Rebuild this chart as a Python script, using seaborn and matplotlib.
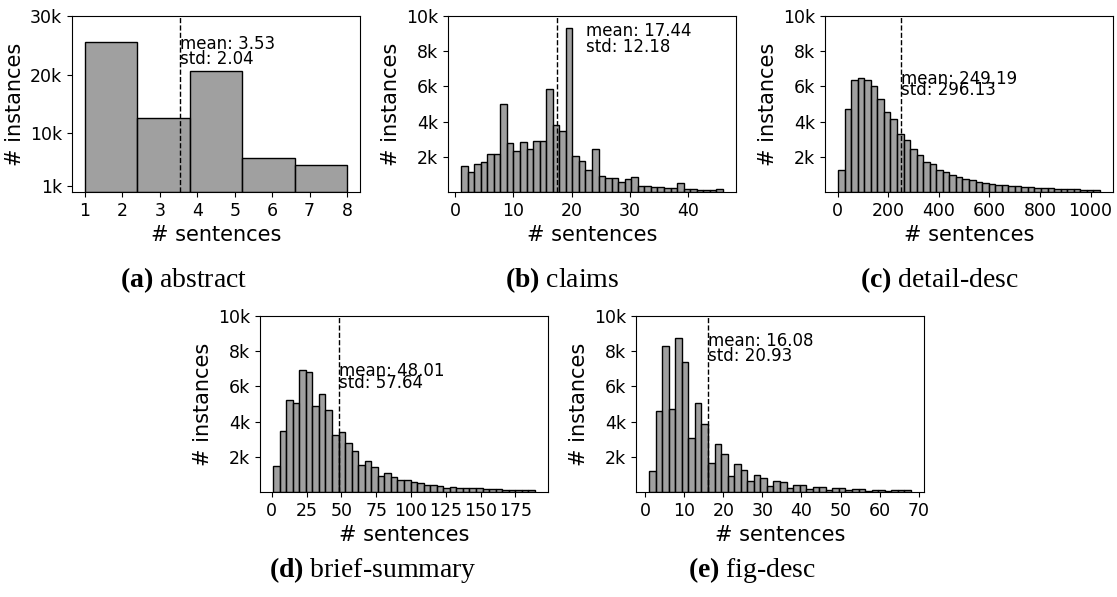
import matplotlib
import matplotlib.pyplot as plt
import numpy as np
import pandas as pd
import seaborn as sns

matplotlib.use('Agg')

# section names and caption letters
sections = ["abstract", "claims", "detail-desc", "brief-summary", "fig-desc"]
letters = ["a", "b", "c", "d", "e"]

# histogram counts per bin
abstract_counts = [25600, 12570, 20550, 5850, 4650]
claims_counts = [1460, 1160, 1610, 1710, 2160, 2180, 5010, 2790, 2350, 2850,
                 2470, 2900, 2900, 5880, 3800, 3470, 9340, 2050, 1750, 1270,
                 2450, 930, 820, 800, 550, 760, 850, 360, 340, 280,
                 300, 230, 250, 510, 190, 170, 130, 130, 130, 190]
detail_counts = [1230, 4740, 6390, 6470, 6390, 6030, 5270, 4570, 4140, 3320,
                 2940, 2450, 2090, 1710, 1570, 1270, 1140, 970, 850, 760,
                 680, 570, 510, 460, 420, 380, 340, 320, 280, 270,
                 250, 210, 230, 190, 170, 150, 150, 130, 110, 110]
summary_counts = [1490, 3480, 5240, 5030, 6920, 6820, 4900, 5540, 4650, 3250,
                  3400, 2780, 2310, 1510, 1740, 1400, 930, 1080, 870, 680,
                  680, 590, 530, 380, 420, 320, 210, 280, 250, 230,
                  230, 210, 170, 170, 150, 130, 130, 110, 110, 110]
figdesc_counts = [1190, 4610, 8300, 4730, 8730, 7410, 3060, 5050, 3840, 1640,
                  2720, 2170, 930, 1610, 1270, 620, 950, 790, 340, 620,
                  570, 210, 420, 380, 170, 300, 280, 110, 230, 210,
                  110, 170, 150, 80, 130, 130, 80, 90, 90, 90]

# range of sentence counts covered by the bins
bin_ranges = [(1, 8), (1, 46), (1, 1037), (1, 189), (1, 68)]

means = [3.53, 17.44, 249.19, 48.01, 16.08]
stds = [2.04, 12.18, 296.13, 57.64, 20.93]

xticks = [
    [1, 2, 3, 4, 5, 6, 7, 8],
    [0, 10, 20, 30, 40],
    [0, 200, 400, 600, 800, 1000],
    [0, 25, 50, 75, 100, 125, 150, 175],
    [0, 10, 20, 30, 40, 50, 60, 70],
]
yticks = [
    [1000, 10000, 20000, 30000],
    [2000, 4000, 6000, 8000, 10000],
    [2000, 4000, 6000, 8000, 10000],
    [2000, 4000, 6000, 8000, 10000],
    [2000, 4000, 6000, 8000, 10000],
]
ymax = [30000, 10000, 10000, 10000, 10000]

all_counts = [abstract_counts, claims_counts, detail_counts, summary_counts, figdesc_counts]

sns.set_style("ticks")
plt.rcParams['font.family'] = ['DejaVu Sans']
plt.rcParams['mathtext.fontset'] = 'custom'
plt.rcParams['mathtext.rm'] = 'Liberation Serif'
plt.rcParams['mathtext.bf'] = 'Liberation Serif:bold'
# plain black text and frame like the default matplotlib look
for key in ['text.color', 'axes.labelcolor', 'xtick.color', 'ytick.color', 'axes.edgecolor']:
    plt.rcParams[key] = 'black'

W, H = 1117, 597
fig = plt.figure(figsize=(W / 100, H / 100), dpi=100)

# axes boxes in pixels: left, top
boxes = [(72, 16), (448, 16), (825, 16), (260, 316), (636, 316)]
ax_w, ax_h = 288, 176
# caption centre x, baseline y in pixels
captions = [(184, 287), (562, 287), (940, 287), (373, 577), (752, 577)]
# shift of the mean/std text from the mean line (data units)
text_dx = [0, 5, 0, 0, 0]

for i, counts in enumerate(all_counts):
    left, top = boxes[i]
    ax = fig.add_axes([left / W, 1 - (top + ax_h) / H, ax_w / W, ax_h / H])

    lo, hi = bin_ranges[i]
    edges = np.linspace(lo, hi, len(counts) + 1)
    df = pd.DataFrame({"sentences": (edges[:-1] + edges[1:]) / 2, "instances": counts})

    sns.histplot(data=df, x="sentences", weights="instances",
                 bins=len(counts), binrange=(lo, hi), ax=ax,
                 color='gray', edgecolor='black', alpha=0.75, linewidth=1)

    ax.axvline(means[i], color='black', linestyle='--', linewidth=1)
    peak = max(counts)
    ax.text(means[i] + text_dx[i], 0.95 * peak, f"mean: {means[i]:.2f}", fontsize=12)
    ax.text(means[i] + text_dx[i], 0.85 * peak, f"std: {stds[i]:.2f}", fontsize=12)

    ax.set_ylim(0, ymax[i])
    ax.set_yticks(yticks[i])
    ax.set_yticklabels([f"{int(t / 1000)}k" for t in yticks[i]])
    ax.set_xticks(xticks[i])
    ax.tick_params(labelsize=12.5)
    ax.set_xlabel("# sentences", fontsize=15)
    ax.set_ylabel("# instances", fontsize=15)

    cx, cy = captions[i]
    fig.text(cx / W, 1 - cy / H, rf"$\mathbf{{({letters[i]})}}$ {sections[i]}",
             ha='center', va='baseline', fontsize=20, family='Liberation Serif')

fig.savefig("out.png", dpi=100)
